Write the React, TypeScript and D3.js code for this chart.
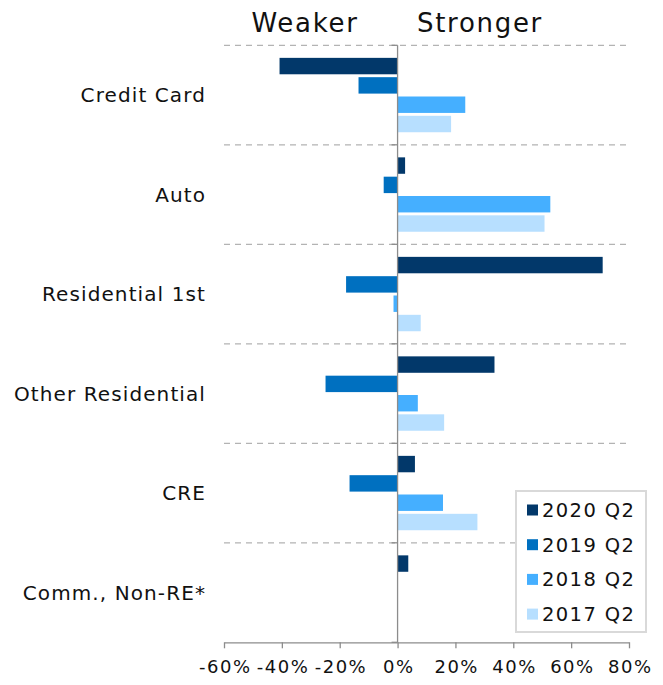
import React, { useRef, useEffect } from 'react';
import * as d3 from 'd3';

const categories = ['Credit Card', 'Auto', 'Residential 1st', 'Other Residential', 'CRE', 'Comm., Non-RE*'];
const seriesNames = ['2020 Q2', '2019 Q2', '2018 Q2', '2017 Q2'];
const seriesColors = ['#02386A', '#0070C0', '#45AFFF', '#B7DFFF'];
const q2020 = [-40.8, 2.6, 70.9, 33.5, 6.0, 3.7];
const q2019 = [-13.5, -4.8, -17.8, -24.9, -16.6, null];
const q2018 = [23.4, 52.8, -1.4, 7.0, 15.7, null];
const q2017 = [18.5, 50.8, 8.0, 16.1, 27.6, null];
const xTicks = [-60, -40, -20, 0, 20, 40, 60, 80];

const FONT = 'DejaVu Sans';

const App = () => {
  const ref = useRef<SVGSVGElement | null>(null);

  useEffect(() => {
    const svg = d3.select(ref.current);
    svg.selectAll('*').remove();

    const left = 224;
    const right = 629;
    const top = 45.3;
    const bottom = 642.3;

    const x = d3.scaleLinear().domain([-60, 80]).range([left, right]);
    const y = d3.scaleBand().domain(categories).range([top, bottom]);
    const inner = d3
      .scaleBand()
      .domain(seriesNames)
      .range([0, y.bandwidth()])
      .paddingInner(0.15)
      .paddingOuter(0.65);

    const allSeries = [q2020, q2019, q2018, q2017];

    // dashed separators
    const seps = categories.map((c) => y(c) as number);
    svg
      .append('g')
      .selectAll('line')
      .data(seps)
      .enter()
      .append('line')
      .attr('x1', left)
      .attr('x2', right)
      .attr('y1', (d) => d)
      .attr('y2', (d) => d)
      .attr('stroke', '#b3b3b3')
      .attr('stroke-width', 1.3)
      .attr('stroke-dasharray', '6,5');

    // bars
    allSeries.forEach((vals, si) => {
      svg
        .append('g')
        .selectAll('rect')
        .data(vals.map((v, i) => ({ v, c: categories[i] })).filter((d) => d.v !== null))
        .enter()
        .append('rect')
        .attr('x', (d) => x(Math.min(0, d.v as number)))
        .attr('width', (d) => Math.abs(x(d.v as number) - x(0)))
        .attr('y', (d) => (y(d.c) as number) + (inner(seriesNames[si]) as number))
        .attr('height', inner.bandwidth())
        .attr('fill', seriesColors[si]);
    });

    // zero axis with small ticks
    svg
      .append('line')
      .attr('x1', x(0))
      .attr('x2', x(0))
      .attr('y1', top)
      .attr('y2', bottom)
      .attr('stroke', '#8c8c8c')
      .attr('stroke-width', 1.3);
    svg
      .append('g')
      .selectAll('line')
      .data(seps.concat([bottom]))
      .enter()
      .append('line')
      .attr('x1', x(0) - 6)
      .attr('x2', x(0))
      .attr('y1', (d) => d)
      .attr('y2', (d) => d)
      .attr('stroke', '#8c8c8c')
      .attr('stroke-width', 1.3);

    // bottom axis
    const xAxis = d3
      .axisBottom(x)
      .tickValues(xTicks)
      .tickSize(6)
      .tickSizeOuter(0)
      .tickFormat((d) => `${d}%`);
    const xg = svg.append('g').attr('transform', `translate(0,${bottom})`).call(xAxis);
    xg.select('.domain').attr('stroke', '#8c8c8c').attr('stroke-width', 1.3);
    xg.selectAll('.tick line').attr('stroke', '#8c8c8c').attr('stroke-width', 1.3);
    xg.selectAll('.tick text')
      .attr('x', 0.75)
      .attr('y', 18)
      .attr('dy', '0.71em')
      .attr('font-family', FONT)
      .attr('font-size', 18)
      .attr('letter-spacing', 1.5)
      .attr('fill', '#111');

    // category labels
    svg
      .append('g')
      .selectAll('text')
      .data(categories)
      .enter()
      .append('text')
      .attr('x', 206)
      .attr('y', (d) => (y(d) as number) + y.bandwidth() / 2)
      .attr('dy', '0.35em')
      .attr('text-anchor', 'end')
      .attr('font-family', FONT)
      .attr('font-size', 20)
      .attr('letter-spacing', 1.1)
      .attr('fill', '#111')
      .text((d) => d);

    // header
    const header = [
      { t: 'Weaker', cx: 305 },
      { t: 'Stronger', cx: 480 },
    ];
    svg
      .append('g')
      .selectAll('text')
      .data(header)
      .enter()
      .append('text')
      .attr('x', (d) => d.cx)
      .attr('y', 31.5)
      .attr('text-anchor', 'middle')
      .attr('font-family', FONT)
      .attr('font-size', 26)
      .attr('letter-spacing', 1.7)
      .attr('fill', '#111')
      .text((d) => d.t);

    // legend
    const lg = svg.append('g').attr('transform', 'translate(516,491)');
    lg.append('rect')
      .attr('width', 130)
      .attr('height', 141)
      .attr('fill', '#fff')
      .attr('stroke', '#d9d9d9')
      .attr('stroke-width', 2);
    seriesNames.forEach((s, i) => {
      const cy = 19 + i * 34.7;
      lg.append('rect')
        .attr('x', 11)
        .attr('y', cy - 5.5)
        .attr('width', 11)
        .attr('height', 11)
        .attr('fill', seriesColors[i]);
      lg.append('text')
        .attr('x', 26)
        .attr('y', cy)
        .attr('dy', '0.36em')
        .attr('font-family', FONT)
        .attr('font-size', 19.5)
        .attr('letter-spacing', 1.4)
        .attr('fill', '#111')
        .text(s);
    });
  }, []);

  return (
    <svg
      ref={ref}
      width={663}
      height={685}
      style={{ position: 'absolute', left: 0, top: 0, background: '#fff' }}
    />
  );
};

export default App;
